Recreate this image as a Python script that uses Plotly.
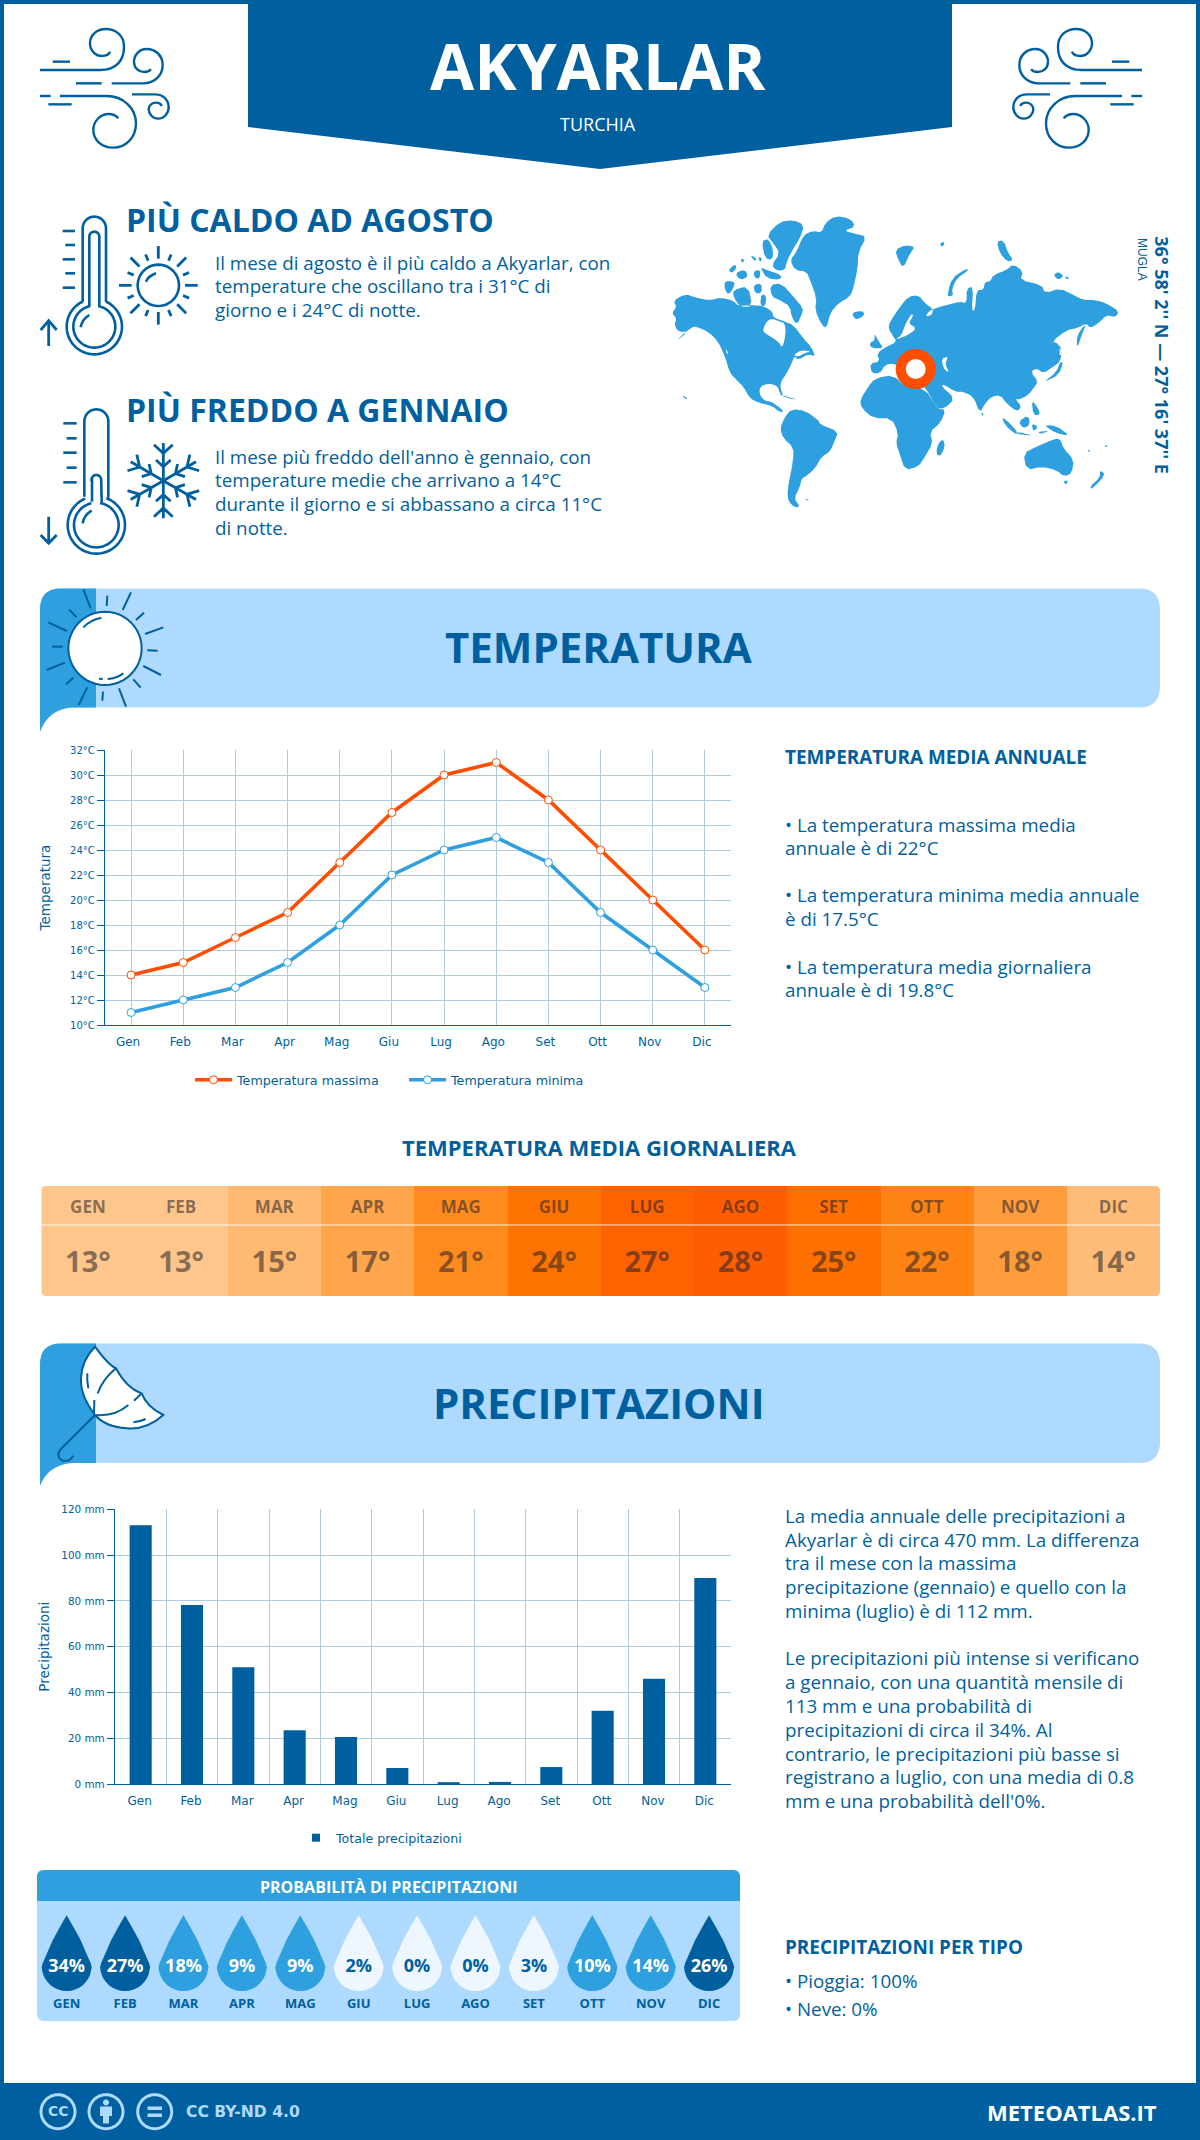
import math
import plotly.graph_objects as go

# ---------- data ----------
months = ["Gen", "Feb", "Mar", "Apr", "Mag", "Giu", "Lug", "Ago", "Set", "Ott", "Nov", "Dic"]
months_upper = ["GEN", "FEB", "MAR", "APR", "MAG", "GIU", "LUG", "AGO", "SET", "OTT", "NOV", "DIC"]
temp_max = [14, 15, 17, 19, 23, 27, 30, 31, 28, 24, 20, 16]
temp_min = [11, 12, 13, 15, 18, 22, 24, 25, 23, 19, 16, 13]
temp_daily = [13, 13, 15, 17, 21, 24, 27, 28, 25, 22, 18, 14]
precip_mm = [113, 78.2, 51, 23.5, 20.5, 7, 0.8, 0.9, 7.4, 32, 46, 90]
precip_prob = [34, 27, 18, 9, 9, 2, 0, 0, 3, 10, 14, 26]
location_px = [915.7, 369]

DARK = "#005f9e"
MID = "#2e9fdf"
LIGHT = "#aedaff"
PALE = "#eef7ff"
GRID = "#b0cbe0"
ORANGE = "#ff4e00"
OS = "Open Sans"
DV = "DejaVu Sans"
W, H = 1200, 2140

shapes, annots = [], []


def stroke(path, width=2.4, color=DARK, fill=None, layer="below"):
    shapes.append(dict(type="path", path=path, xref="x", yref="y", layer=layer,
                       line=dict(color=color, width=width),
                       fillcolor=fill if fill else "rgba(0,0,0,0)"))


def solid(path, fill, layer="below"):
    shapes.append(dict(type="path", path=path, xref="x", yref="y", layer=layer,
                       line=dict(width=0), fillcolor=fill))


def T(x, y, s, size, color=DARK, weight=400, anchor="left", family=OS, angle=0):
    if anchor == "left":
        x -= 2
    annots.append(dict(x=x, y=y, xref="x", yref="y", text=s, showarrow=False,
                       xanchor=anchor, yanchor="middle", textangle=angle,
                       font=dict(family=family, size=size, color=color, weight=weight)))


def rrect(x0, y0, x1, y1, r):
    return (f"M{x0+r},{y0} L{x1-r},{y0} Q{x1},{y0} {x1},{y0+r} L{x1},{y1-r} Q{x1},{y1} {x1-r},{y1} "
            f"L{x0+r},{y1} Q{x0},{y1} {x0},{y1-r} L{x0},{y0+r} Q{x0},{y0} {x0+r},{y0} Z")


def circ(cx, cy, r, a0=0, a1=360, n=48):
    pts = []
    for i in range(n + 1):
        a = math.radians(a0 + (a1 - a0) * i / n)
        pts.append((cx + r * math.cos(a), cy + r * math.sin(a)))
    return pts


def poly(pts, close=True):
    return "M" + " L".join(f"{x:.2f},{y:.2f}" for x, y in pts) + (" Z" if close else "")


def tr(pts, sx, ox, oy):
    return [(ox + x * sx, oy + y * sx) for x, y in pts]


# ---------- frame, header, footer ----------
solid(f"M0,0 H{W} V4 H0 Z", DARK)
solid(f"M0,0 H4 V{H} H0 Z", DARK)
solid(f"M{W-4},0 H{W} V{H} H{W-4} Z", DARK)
solid(f"M0,2083 H{W} V{H} H0 Z", DARK)
solid("M248,0 L952,0 L952,127 L600,169 L248,127 Z", DARK)
T(598, 65, "AKYARLAR", 64, "white", 700, "center")
T(598, 124, "TURCHIA", 18, "white", 400, "center")
T(1159, 2112, "METEOATLAS.IT", 22, "white", 700, "right")
T(186, 2112, "CC BY-ND 4.0", 15.6, LIGHT, 700, "left", DV)
for cx in (58, 106, 154.7):
    stroke(poly(circ(cx, 2111.7, 17)), 3, LIGHT)
T(58, 2111, "CC", 14, LIGHT, 700, "center", DV)
solid(poly(circ(106, 2102.5, 3)), LIGHT)
solid("M100,2106.5 H112 V2116 H109 V2123.5 H103 V2116 H100 Z", LIGHT)
solid("M147.5,2106.5 H162 V2110 H147.5 Z", LIGHT)
solid("M147.5,2113.5 H162 V2117 H147.5 Z", LIGHT)

# ---------- wind icons ----------
wind = [
    "M120,210 L300,210 C350,210 372,180 372,140 C372,105 345,87 318,87 C290,87 270,105 270,130 C270,155 290,168 305,168 C318,168 328,162 330,155",
    "M158,185 L210,185",
    "M228,250 L305,250",
    "M335,250 L430,250 C465,250 488,225 488,195 C488,165 465,147 440,147 C418,147 402,165 402,185 C402,205 418,216 432,216 C442,216 450,212 452,207",
    "M120,288 L152,288",
    "M180,288 L320,288 C370,288 408,325 408,370 C408,415 375,443 340,443 C305,443 280,420 280,390 C280,360 305,342 325,342 C340,342 350,348 355,355",
    "M145,313 L215,313",
    "M396,283 L465,283 C490,283 506,300 506,322 C506,342 490,356 475,356 C458,356 446,342 446,328 C446,315 458,308 468,308 C476,308 483,312 485,318",
]


def map_path(p, fx, fy):
    out = []
    for tok in p.split(" "):
        if tok == "Z":
            out.append("Z")
            continue
        cmd = ""
        if tok[0].isalpha():
            cmd, tok = tok[0], tok[1:]
        a, b = tok.split(",")
        out.append(f"{cmd}{fx(float(a)):.2f},{fy(float(b)):.2f}")
    return " ".join(out)


for p in wind:
    stroke(map_path(p, lambda x: x / 3, lambda y: y / 3), 2.4)
    stroke(map_path(p, lambda x: 1182 - x / 3, lambda y: y / 3), 2.4)


# ---------- thermometers, sun, snowflake ----------
zx = lambda x: 20 + x / 3
zy = lambda y: 200 + y / 3
Z = lambda p: map_path(p, zx, zy)


def thermo(xl, xr, top, neck, bcy, br, il, ir, itop, ineck, ibr):
    cx = (xl + xr) / 2
    r = (xr - xl) / 2
    a = math.degrees(math.atan2(neck - bcy, xr - cx))
    pts = [(xl, neck), (xl, top + r)] + circ(cx, top + r, r, 180, 360, 24) + [(xr, neck)]
    pts += circ(cx, bcy, br, a, a + 360 - 2 * (a + 90), 60)
    pts = [(zx(x), zy(y)) for x, y in pts]
    stroke(poly(pts, False), 2.6)
    ri = (ir - il) / 2
    a2 = math.degrees(math.atan2(ineck - bcy, ir - cx))
    pts = [(il, ineck), (il, itop + ri)] + circ(cx, itop + ri, ri, 180, 360, 20) + [(ir, ineck)]
    pts += circ(cx, bcy, ibr, a2, a2 + 360 - 2 * (a2 + 90), 60)
    pts = [(zx(x), zy(y)) for x, y in pts]
    stroke(poly(pts, False), 2.6)


thermo(188, 258, 50, 305, 380, 83, 208, 238, 95, 322, 63)
thermo(193, 265, 628, 890, 975, 86, 216, 245, 825, 905, 67)
stroke(Z("M182,382 Q186,358 208,345"), 2.6)
stroke(Z("M188,970 Q192,945 215,932"), 2.6)
for y, x0 in ((93, 128), (135, 136), (178, 128), (220, 136), (263, 128)):
    stroke(Z(f"M{x0},{y} L165,{y}"), 2.6)
for y, x0 in ((670, 130), (715, 140), (758, 130), (803, 140), (847, 130)):
    stroke(Z(f"M{x0},{y} L170,{y}"), 2.6)
stroke(Z("M86,438 L86,362 M62,390 L86,362 L110,390"), 2.8)
stroke(Z("M86,950 L86,1030 M62,1005 L86,1030 L110,1005"), 2.8)

# sun
sc = (415, 256)
stroke(poly([(zx(x), zy(y)) for x, y in circ(sc[0], sc[1], 62)]), 2.6)
stroke(Z("M378,245 Q385,228 408,220"), 2.6)
for k in range(16):
    a = math.radians(k * 22.5)
    r0, r1 = (80, 118) if k % 2 == 0 else (80, 100)
    x0, y0 = sc[0] + r0 * math.cos(a), sc[1] + r0 * math.sin(a)
    x1, y1 = sc[0] + r1 * math.cos(a), sc[1] + r1 * math.sin(a)
    stroke(f"M{zx(x0):.2f},{zy(y0):.2f} L{zx(x1):.2f},{zy(y1):.2f}", 2.8)

# snowflake
fc = (430, 842)
for k in range(6):
    a = math.radians(k * 60)
    c, s = math.cos(a), math.sin(a)
    def R(x, y):
        return f"{zx(fc[0] + x * c - y * s):.2f},{zy(fc[1] + x * s + y * c):.2f}"
    stroke(f"M{R(0,0)} L{R(0,-113)} M{R(-28,-108)} L{R(0,-82)} L{R(28,-108)} M{R(-22,-62)} L{R(0,-42)} L{R(22,-62)}", 2.8)

# ---------- headings & texts ----------
T(126, 219, "PIÙ CALDO AD AGOSTO", 32, DARK, 700)
T(126, 409, "PIÙ FREDDO A GENNAIO", 32, DARK, 700)
for y, s in ((263, "Il mese di agosto è il più caldo a Akyarlar, con"),
             (286, "temperature che oscillano tra i 31°C di"),
             (310, "giorno e i 24°C di notte.")):
    T(215, y, s, 18.8)
for y, s in ((456.6, "Il mese più freddo dell'anno è gennaio, con"),
             (480, "temperature medie che arrivano a 14°C"),
             (503.6, "durante il giorno e si abbassano a circa 11°C"),
             (527.5, "di notte.")):
    T(215, y, s, 18.8)

T(1161.7, 355, "36° 58' 2'' N — 27° 16' 37'' E", 18, DARK, 700, "center", OS, 90)
T(1142, 259, "MUGLA", 12, DARK, 400, "center", "Liberation Sans", 90)

map_a = [  # crop origin 665,210
    [(20,310),(35,290),(25,272),(60,252),(90,262),(135,272),(165,262),(205,272),(220,288),(270,285),(300,290),(322,305),(325,322),(360,335),(385,345),(415,385),(438,410),(452,440),(430,432),(400,450),(388,438),(380,460),(365,490),(345,520),(350,548),(358,562),(345,552),(338,528),(310,520),(285,530),(283,552),(298,572),(320,575),(340,590),(357,604),(345,607),(320,587),(280,578),(255,565),(235,530),(215,510),(195,490),(180,440),(160,395),(130,365),(95,350),(78,352),(30,396),(70,365),(40,365),(28,345),(35,325)],
    [(305,75),(345,35),(385,30),(418,45),(405,85),(385,115),(365,155),(360,180),(335,182),(320,165),(345,130),(325,100)],
    [(290,95),(310,85),(325,120),(322,150),(300,145)],
    [(190,180),(210,162),(215,175),(200,190)],
    [(210,190),(240,178),(250,200),(225,210)],
    [(180,212),(210,215),(205,235),(190,255),(178,235)],
    [(205,240),(250,228),(262,290),(225,290),(205,260)],
    [(265,185),(285,178),(285,205),(270,205)],
    [(285,170),(305,180),(350,195),(345,210),(305,205)],
    [(265,225),(290,220),(290,250),(270,250)],
    [(315,225),(350,220),(385,260),(415,295),(410,315),(395,345),(380,320),(375,290),(345,270),(320,260)],
    [(290,250),(305,260),(300,290),(285,285)],
    [(255,135),(275,145),(270,155)],
    [(225,150),(237,145),(235,160)],
    [(280,140),(292,145),(285,158)],
    [(375,150),(395,125),(415,75),(445,62),(470,68),(480,40),(510,18),(555,25),(572,50),(535,62),(575,72),(605,80),(580,125),(578,175),(565,235),(555,260),(520,280),(495,310),(485,355),(470,345),(450,300),(455,265),(435,210),(425,185),(390,180)],
    [(560,308),(590,302),(600,312),(585,325),(570,328)],
    [(50,555),(68,565),(62,568)],
]
water_a = [
    [(295,355),(305,335),(320,325),(345,335),(360,340),(362,375),(352,415),(340,395),(305,372),(295,365)],
    [(385,435),(410,420),(440,425),(420,428),(400,440)],
    [(182,415),(190,430),(185,432)],
    [(213,512),(240,550),(232,550)],
    [(355,280),(370,285),(372,300),(360,318),(345,300)],
    [(325,310),(340,320),(355,318),(350,326),(330,325)],
]
map_b = [  # crop origin 860,240
    [(85,265),(90,245),(120,200),(145,170),(175,165),(195,190),(220,208),(215,225),(197,230),(205,215),(225,205),(260,195),(300,185),(320,190),(320,145),(340,140),(335,212),(345,210),(350,150),(370,150),(375,125),(390,125),(400,105),(440,90),(460,72),(490,95),(480,120),(545,135),(555,160),(600,145),(640,165),(670,180),(705,180),(740,190),(778,215),(765,232),(740,225),(715,250),(690,265),(680,250),(650,265),(620,270),(575,305),(595,310),(605,340),(600,365),(580,380),(550,400),(530,385),(512,395),(535,425),(520,445),(505,465),(475,480),(465,475),(485,500),(470,515),(440,490),(420,465),(395,470),(375,490),(360,520),(340,470),(310,455),(285,455),(250,432),(245,440),(285,475),(255,505),(230,505),(195,440),(170,420),(130,385),(100,370),(75,375),(60,400),(35,400),(30,370),(60,365),(50,340),(80,320),(110,305),(100,290)],
    [(42,280),(60,310),(70,325),(35,325),(28,310),(45,300)],
    [(0,480),(25,440),(45,415),(100,405),(135,440),(195,445),(230,505),(258,510),(240,550),(210,575),(218,610),(195,650),(175,680),(135,690),(120,645),(108,610),(115,580),(95,535),(40,535),(5,505)],
    [(250,597),(255,620),(240,650),(228,640),(235,610)],
    [(105,30),(135,15),(165,20),(150,40),(130,85),(115,60)],
    [(238,10),(255,5),(248,22)],
    [(410,5),(430,0),(445,40),(460,60),(442,65),(420,40)],
    [(262,165),(275,115),(320,85),(325,92),(290,115),(275,150),(280,165),(268,170)],
    [(580,105),(595,95),(612,108),(595,120)],
    [(615,108),(630,115),(618,118)],
    [(680,250),(665,285),(652,325),(650,295),(660,272)],
    [(553,425),(590,395),(600,365),(610,370),(595,405),(565,420)],
    [(600,310),(605,345),(598,345)],
    [(515,480),(535,505),(540,525),(520,525)],
    [(475,545),(505,525),(510,555),(490,565)],
    [(425,530),(450,550),(475,580),(465,582),(435,555)],
    [(470,575),(525,588),(470,582)],
    [(555,555),(590,558),(630,588),(590,580),(565,565)],
    [(515,550),(535,560),(520,575)],
    [(535,575),(570,572),(540,582)],
    [(490,640),(530,620),(575,600),(600,595),(610,625),(642,660),(635,700),(612,710),(590,690),(545,680),(500,690)],
    [(610,722),(625,722),(617,735)],
    [(720,690),(737,705),(695,748),(690,740),(720,712)],
    [(365,515),(372,525),(365,527)],
    [(735,615),(745,618),(735,622)],
    [(683,628),(692,634),(686,636)],
]
water_b = [
    [(155,220),(160,228),(145,250),(170,265),(145,285),(105,300),(125,285),(135,255)],
    [(245,355),(265,350),(255,370),(268,400),(250,385)],
]
map_c = [  # crop origin 690,370
    [(270,175),(285,140),(305,117),(345,122),(385,150),(390,163),(445,185),(435,210),(420,245),(395,260),(375,295),(350,318),(335,325),(330,350),(312,385),(330,410),(315,412),(295,395),(292,360),(310,270),(310,232),(280,205)],
    [(345,388),(358,388),(350,392)],
    [(258,70),(285,78),(325,90),(295,85)],
]


def chaikin(pts, rounds=1):
    for _ in range(rounds):
        out = []
        for i, (x0, y0) in enumerate(pts):
            x1, y1 = pts[(i + 1) % len(pts)]
            out += [(0.75 * x0 + 0.25 * x1, 0.75 * y0 + 0.25 * y1), (0.25 * x0 + 0.75 * x1, 0.25 * y0 + 0.75 * y1)]
        pts = out
    return pts


def group(groups, ox, oy):
    return " ".join(poly(tr(chaikin(g), 1 / 3, ox, oy)) for g in groups)


solid(group(map_a, 665, 210) + " " + group(map_b, 860, 240) + " " + group(map_c, 690, 370), MID)
solid(group(water_a, 665, 210) + " " + group(water_b, 860, 240), "white")


# ---------- section banners ----------
def banner(y0, y1, tail, title, ty):
    solid(rrect(40, y0, 1160, y1, 21), LIGHT)
    solid(f"M40,{y0+21} Q40,{y0} 61,{y0} L96,{y0} L96,{y1} L72,{y1} Q48,{y1+2} 40,{tail} Z", MID)
    T(598.5, ty, title, 42, DARK, 700, "center")


banner(588.5, 707.5, 732, "TEMPERATURA", 646.5)
banner(1343.5, 1463, 1486, "PRECIPITAZIONI", 1402)

S7 = lambda p: map_path(p, lambda x: 30 + x / 3, lambda y: 580 + y / 3)
stroke(poly(tr(circ(225, 205, 110), 1 / 3, 30, 580)), 2, DARK, "white")
for x0, y0, x1, y1 in [(160,28,182,85),(232,47,230,78),(303,37,278,90),(342,98,318,120),(400,142,345,162),
                       (383,212,352,211),(393,285,340,258),(332,323,310,298),(288,380,267,325),(217,362,219,335),
                       (146,375,172,322),(108,313,130,293),(50,270,105,248),(66,200,98,200),(55,127,110,153),(117,88,140,112)]:
    stroke(S7(f"M{x0},{y0} L{x1},{y1}"), 2)
stroke(S7("M160,142 Q180,120 214,113"), 2)
stroke(S7("M207,296 L218,297"), 2)
stroke(S7("M233,297 Q260,295 280,280"), 2)

S8 = lambda p: map_path(p, lambda x: 30 + x / 3, lambda y: 1335 + y / 3)
stroke(S8("M195,35 Q235,90 258,100 Q290,160 335,175 Q350,215 400,240 Q350,285 290,280 Q225,275 195,240 Q150,180 153,130 Q155,75 195,35 Z"), 2, DARK, "white")
for p in ("M195,240 L95,340 C75,360 90,378 105,378 C118,378 125,370 130,362", "M258,100 Q220,130 203,175",
          "M193,195 L192,235", "M195,240 Q255,245 295,210", "M312,197 L335,175", "M172,115 Q170,135 175,160",
          "M310,262 Q330,260 347,252"):
    stroke(S8(p), 2)

# right-column texts
T(785, 757, "TEMPERATURA MEDIA ANNUALE", 18.9, DARK, 700)
for y, s in ((824.5, "• La temperatura massima media"), (847.6, "annuale è di 22°C"),
             (895, "• La temperatura minima media annuale"), (919, "è di 17.5°C"),
             (966.5, "• La temperatura media giornaliera"), (990, "annuale è di 19.8°C")):
    T(785, y, s, 18.8)
T(599, 1147, "TEMPERATURA MEDIA GIORNALIERA", 22, DARK, 700, "center")
for y, s in ((1516, "La media annuale delle precipitazioni a"), (1539.7, "Akyarlar è di circa 470 mm. La differenza"),
             (1563, "tra il mese con la massima"), (1587, "precipitazione (gennaio) e quello con la"),
             (1611, "minima (luglio) è di 112 mm."),
             (1658, "Le precipitazioni più intense si verificano"), (1682, "a gennaio, con una quantità mensile di"),
             (1706, "113 mm e una probabilità di"), (1729.5, "precipitazioni di circa il 34%. Al"),
             (1753.6, "contrario, le precipitazioni più basse si"), (1777, "registrano a luglio, con una media di 0.8"),
             (1801, "mm e una probabilità dell'0%.")):
    T(785, y, s, 18.8)
T(785, 1947, "PRECIPITAZIONI PER TIPO", 18.9, DARK, 700)
T(785, 1980.6, "• Pioggia: 100%", 18.8)
T(785, 2009, "• Neve: 0%", 18.8)

# probability panel
solid(rrect(37, 1870, 740, 2021, 7), LIGHT)
solid("M37,1901 V1877 Q37,1870 44,1870 H733 Q740,1870 740,1877 V1901 Z", MID)
T(389, 1887, "PROBABILITÀ DI PRECIPITAZIONI", 16, "white", 700, "center")

# daily table: white separator and rounded corners on top of the cells
shapes.append(dict(type="line", x0=41, x1=1160, y0=1225, y1=1225, xref="x", yref="y", layer="above",
                   line=dict(color="rgba(255,255,255,0.85)", width=1.2)))
for cx, cy, dx, dy in ((41.3, 1186, 1, 1), (1160, 1186, -1, 1), (41.3, 1296, 1, -1), (1160, 1296, -1, -1)):
    solid(f"M{cx},{cy} L{cx+5*dx},{cy} Q{cx},{cy} {cx},{cy+5*dy} Z", "white", "above")

# ---------- figure ----------
fig = go.Figure()
# page-pixel subplot (first, so it lies below the charts) with the location marker
fig.add_trace(go.Scatter(x=[location_px[0]], y=[location_px[1]], mode="markers", xaxis="x", yaxis="y",
                         marker=dict(size=30, color="white", line=dict(color=ORANGE, width=10)),
                         showlegend=False, hoverinfo="skip", cliponaxis=False))

# temperature chart
fig.add_trace(go.Scatter(x=months, y=temp_max, name="Temperatura massima", mode="lines+markers", xaxis="x2", yaxis="y2",
                         line=dict(color=ORANGE, width=3.6),
                         marker=dict(size=8, color="white", line=dict(color=ORANGE, width=1)), legend="legend"))
fig.add_trace(go.Scatter(x=months, y=temp_min, name="Temperatura minima", mode="lines+markers", xaxis="x2", yaxis="y2",
                         line=dict(color=MID, width=3.6),
                         marker=dict(size=8, color="white", line=dict(color=MID, width=1)), legend="legend"))
# precipitation chart
fig.add_trace(go.Bar(x=months, y=precip_mm, name="Totale precipitazioni", xaxis="x3", yaxis="y3", width=0.43,
                     marker=dict(color=DARK, line=dict(width=0)), showlegend=False))
fig.add_trace(go.Scatter(x=[None], y=[None], name="Totale precipitazioni", mode="markers", xaxis="x3", yaxis="y3",
                         marker=dict(symbol="square", size=8, color=DARK), legend="legend2", showlegend=True, hoverinfo="skip"))

# daily temperature table
stops = [(13, "#ffc68c"), (14, "#ffbc78"), (15, "#ffb870"), (17, "#ffa54c"), (18, "#ff9c3c"), (21, "#ff8b1f"),
         (22, "#ff8414"), (24, "#ff7400"), (25, "#ff7000"), (27, "#ff6200"), (28, "#ff5e00")]
fig.add_trace(go.Heatmap(x=months_upper, y=[0.5], z=[temp_daily], dy=1, xaxis="x4", yaxis="y4", zmin=13, zmax=28,
                         colorscale=[[(v - 13) / 15, c] for v, c in stops], showscale=False, hoverinfo="skip"))
HT = "rgba(30,30,40,0.55)"
fig.add_trace(go.Scatter(x=months_upper, y=[0.795] * 12, text=months_upper, mode="text", xaxis="x4", yaxis="y4",
                         textfont=dict(family=OS, size=17, color=HT, weight=700), showlegend=False, hoverinfo="skip"))
fig.add_trace(go.Scatter(x=months_upper, y=[0.28] * 12, text=[f"{v}°" for v in temp_daily], mode="text", xaxis="x4", yaxis="y4",
                         textfont=dict(family=OS, size=29, color=HT, weight=700), showlegend=False, hoverinfo="skip"))

# rain-probability drops, positioned on the month axis
drop_unit = [(0, -50), (3, -45), (8, -36), (14, -25), (20, -12), (24, -2), (25, 2)] + \
            [(25 * math.cos(math.radians(a)), 0.5 + 25.3 * math.sin(math.radians(a))) for a in range(10, 171, 10)] + \
            [(-25, 2), (-24, -2), (-20, -12), (-14, -25), (-8, -36), (-3, -45)]
PX_PER_MONTH = 58.4
DROP_CY = 1965.3
for i, p in enumerate(precip_prob):
    col = DARK if p >= 26 else (MID if p >= 9 else PALE)
    fig.add_trace(go.Scatter(x=[i + dx / PX_PER_MONTH for dx, dy in drop_unit], y=[DROP_CY + dy for dx, dy in drop_unit],
                             mode="lines", fill="toself", fillcolor=col, line=dict(width=0), xaxis="x5", yaxis="y5",
                             showlegend=False, hoverinfo="skip"))
fig.add_trace(go.Scatter(x=list(range(12)), y=[1967] * 12, text=[f"{p}%" for p in precip_prob], mode="text", xaxis="x5", yaxis="y5",
                         textfont=dict(family=OS, size=18, weight=700,
                                       color=["white" if p >= 9 else DARK for p in precip_prob]),
                         showlegend=False, hoverinfo="skip"))
fig.add_trace(go.Scatter(x=list(range(12)), y=[2005] * 12, text=months_upper, mode="text", xaxis="x5", yaxis="y5",
                         textfont=dict(family=OS, size=13, color=DARK, weight=700), showlegend=False, hoverinfo="skip"))

hidden = dict(visible=False, showgrid=False, zeroline=False, fixedrange=True)


def dom_x(a, b):
    return [a / W, b / W]


def dom_y(top, bot):
    return [1 - bot / H, 1 - top / H]


ytick_t = dict(family=DV, size=10, color=DARK)
ytick_p = dict(family=DV, size=10.4, color=DARK)
xtick = dict(family=DV, size=12, color=DARK)
fig.update_layout(
    width=W, height=H, margin=dict(l=0, r=0, t=0, b=0, pad=0, autoexpand=False), paper_bgcolor="white",
    plot_bgcolor="rgba(0,0,0,0)", shapes=shapes, annotations=annots, hovermode=False,
    font=dict(family=OS, color=DARK),
    xaxis=dict(domain=[0, 1], range=[0, W], **hidden),
    yaxis=dict(domain=[0, 1], range=[H, 0], **hidden),
    xaxis2=dict(domain=dom_x(105, 731), anchor="y2", type="category", range=[-0.5, 11.5], showline=True, linecolor=DARK,
                linewidth=1.4, showgrid=True, gridcolor=GRID, gridwidth=1, ticks="", tickfont=xtick, ticklabelstandoff=5,
                ticklabelshift=-3, zeroline=False, fixedrange=True),
    yaxis2=dict(domain=dom_y(750, 1025), anchor="x2", range=[10, 32], dtick=2, ticksuffix="°C", showline=True, linecolor=DARK,
                linewidth=1.4, showgrid=True, gridcolor=GRID, gridwidth=1, ticks="outside", ticklen=7, tickcolor=DARK,
                tickfont=ytick_t, zeroline=False, fixedrange=True,
                title=dict(text="Temperatura", font=dict(family=DV, size=13.5, color=DARK), standoff=16)),
    xaxis3=dict(domain=dom_x(115, 731), anchor="y3", type="category", range=[-0.5, 11.5], tickson="boundaries", showline=True,
                linecolor=DARK, linewidth=1.4, showgrid=True, gridcolor=GRID, gridwidth=1, ticks="", tickfont=xtick,
                ticklabelstandoff=5, ticklabelshift=-1, zeroline=False, fixedrange=True),
    yaxis3=dict(domain=dom_y(1509.3, 1784), anchor="x3", range=[0, 120], dtick=20, ticksuffix=" mm", showline=True, linecolor=DARK,
                linewidth=1.4, showgrid=True, gridcolor=GRID, gridwidth=1, ticks="outside", ticklen=7, tickcolor=DARK,
                tickfont=ytick_p, zeroline=False, fixedrange=True,
                title=dict(text="Precipitazioni", font=dict(family=DV, size=13.5, color=DARK), standoff=8)),
    xaxis4=dict(domain=dom_x(41.3, 1160), anchor="y4", type="category", range=[-0.5, 11.5], **hidden),
    yaxis4=dict(domain=dom_y(1186, 1296), anchor="x4", range=[0, 1], **hidden),
    xaxis5=dict(domain=dom_x(37, 740), anchor="y5", range=[(37 - 66.7) / PX_PER_MONTH, (740 - 66.7) / PX_PER_MONTH], **hidden),
    yaxis5=dict(domain=dom_y(1870, 2021), anchor="x5", range=[2021, 1870], **hidden),
    legend=dict(orientation="h", x=190 / W, y=1 - 1080 / H, xanchor="left", yanchor="middle",
                font=dict(family=DV, size=12.7, color=DARK), bgcolor="rgba(0,0,0,0)", itemwidth=37,
                entrywidth=162, entrywidthmode="pixels", traceorder="normal"),
    legend2=dict(orientation="h", x=296 / W, y=1 - 1838 / H, xanchor="left", yanchor="middle",
                 font=dict(family=DV, size=12.6, color=DARK), bgcolor="rgba(0,0,0,0)", itemwidth=30),
)
fig.write_html("out.html", config=dict(displayModeBar=False, responsive=False),
               post_script="document.body.style.margin='0';document.documentElement.style.margin='0';")
